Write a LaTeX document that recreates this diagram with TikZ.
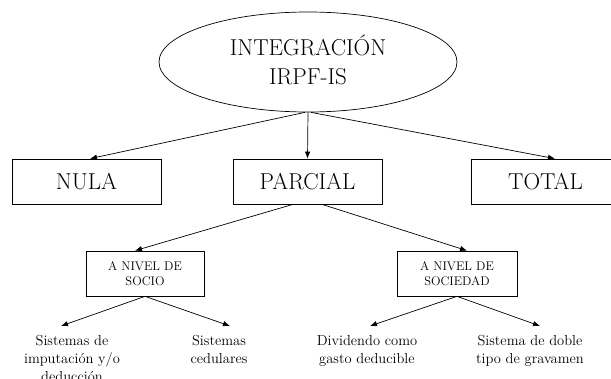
\documentclass[tikz,border=0pt]{standalone}
\usetikzlibrary{shapes.geometric,arrows.meta,calc}
\begin{document}
\begin{tikzpicture}[x=1pt,y=-1pt,
  conn/.style={-{Latex[length=7pt,width=5.5pt]},line width=0.7pt},
  bigbox/.style={draw,line width=0.7pt,minimum width=149pt,minimum height=45pt,inner sep=0pt,font=\fontsize{23}{28}\selectfont},
  midbox/.style={draw,line width=0.7pt,minimum height=45pt,inner sep=0pt,align=center,font=\fontsize{12.5}{15}\selectfont},
  leaf/.style={anchor=north,inner sep=0pt,align=center,font=\fontsize{14.5}{18}\selectfont}]
\useasboundingbox (0,0) rectangle (611,378);
\node[draw,ellipse,line width=0.7pt,minimum width=298pt,minimum height=100pt,inner sep=0pt] (ell) at (308,62) {};
\node[align=center,inner sep=0pt,font=\fontsize{23}{29}\selectfont] (elltext) at (308,60) {INTEGRACIÓN\\IRPF-IS};
\node[bigbox] (nula) at (86.5,181.5) {NULA};
\node[bigbox] (parcial) at (307.5,181.5) {PARCIAL};
\node[bigbox] (total) at (545.5,181.5) {TOTAL};
\node[midbox,minimum width=118pt] (socio) at (145,273.5) {A NIVEL DE\\SOCIO};
\node[midbox,minimum width=120pt] (sociedad) at (457,273.5) {A NIVEL DE\\SOCIEDAD};
\node[leaf] (l1) at (72,335) {Sistemas de\\imputación y/o\\deducción};
\node[leaf] (l2) at (219,335) {Sistemas\\cedulares};
\node[leaf] (l3) at (367,335) {Dividendo como\\gasto deducible};
\node[leaf] (l4) at (530,335) {Sistema de doble\\tipo de gravamen};
\draw[conn] ($(ell.south)+(-3,0)$) -- ($(nula.north)+(3.5,0)$);
\draw[conn] (ell.south) -- (parcial.north);
\draw[conn] ($(ell.south)+(3,0)$) -- ($(total.north)+(9.5,0)$);
\draw[conn] ($(parcial.south)+(-14.5,0)$) -- ($(socio.north)+(-10,0)$);
\draw[conn] ($(parcial.south)+(14.5,0)$) -- ($(sociedad.north)+(10,0)$);
\draw[conn] (socio.south) -- ($(l1.north)+(-11,-9)$);
\draw[conn] (socio.south) -- ($(l2.north)+(11,-9)$);
\draw[conn] (sociedad.south) -- ($(l3.north)+(3,-9)$);
\draw[conn] (sociedad.south) -- ($(l4.north)+(10,-9)$);
\end{tikzpicture}
\end{document}
